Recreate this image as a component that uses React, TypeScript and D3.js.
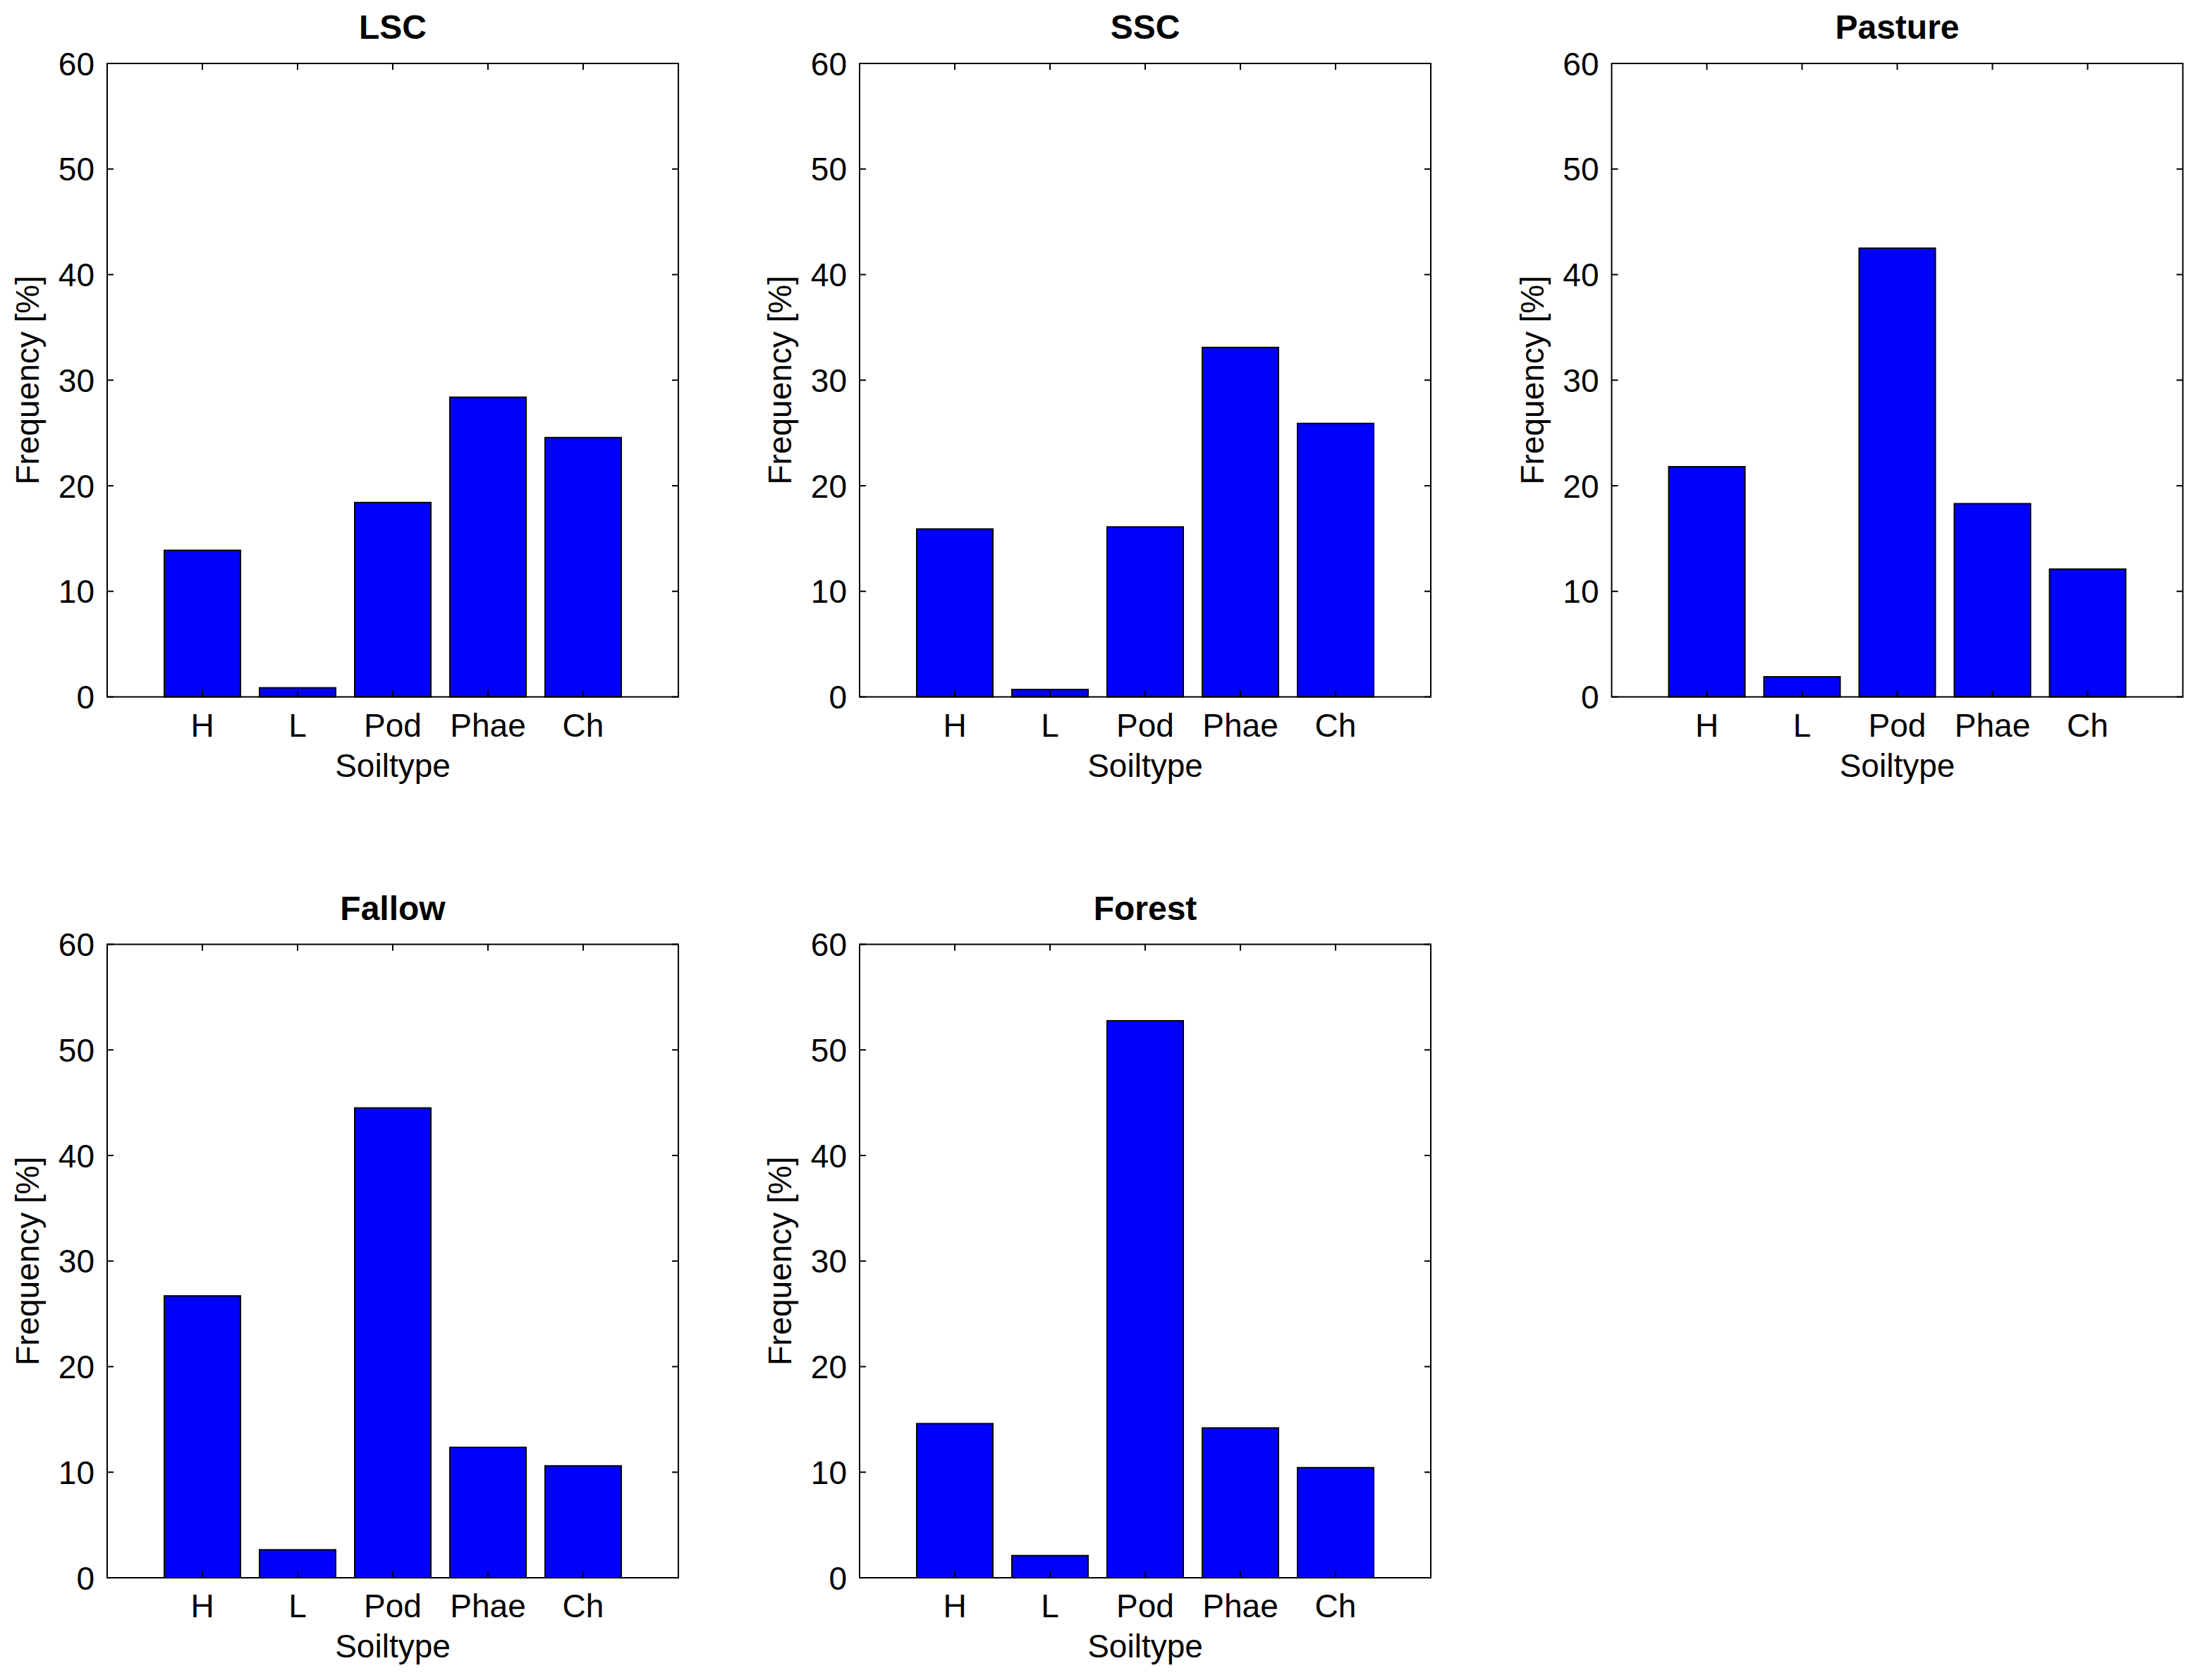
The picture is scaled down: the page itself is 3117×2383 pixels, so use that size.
import React from "react";
import * as d3 from "d3";

const categories = ["H", "L", "Pod", "Phae", "Ch"];
const panelTitles = ["LSC", "SSC", "Pasture", "Fallow", "Forest"];
const lscValues = [13.88, 0.86, 18.41, 28.38, 24.56];
const sscValues = [15.9, 0.7, 16.1, 33.1, 25.9];
const pastureValues = [21.8, 1.9, 42.5, 18.3, 12.1];
const fallowValues = [26.7, 2.65, 44.5, 12.35, 10.6];
const forestValues = [14.6, 2.1, 52.76, 14.19, 10.43];
const yTicks = [0, 10, 20, 30, 40, 50, 60];
const yLabel = "Frequency [%]";
const xLabel = "Soiltype";

const seriesList = [lscValues, sscValues, pastureValues, fallowValues, forestValues];

const W = 3117;
const H = 2383;
const colLefts = [152, 1219, 2285.5];
const rowTops = [90, 1339.5];
const PW = 810;
const PH = 898.5;
const FONT = "'Liberation Sans', Arial, Helvetica, sans-serif";
const FS = 46;
const TICK = 9;

function Panel({ title, values, left, top }: { title: string; values: number[]; left: number; top: number }) {
  const x = d3.scaleLinear().domain([0, 6]).range([0, PW]);
  const y = d3.scaleLinear().domain([0, 60]).range([PH, 0]);
  const bw = x(0.8) - x(0);
  const xt = categories.map((_, i) => i + 1);
  return (
    <g transform={`translate(${left},${top})`}>
      {values.map((v, i) => (
        <rect
          key={i}
          x={x(i + 1) - bw / 2}
          y={y(v)}
          width={bw}
          height={y(0) - y(v)}
          fill="#0000ff"
          stroke="#000"
          strokeWidth={2}
        />
      ))}
      <rect x={0} y={0} width={PW} height={PH} fill="none" stroke="#000" strokeWidth={2} />
      {yTicks.map((t) => (
        <g key={t}>
          <line x1={0} x2={TICK} y1={y(t)} y2={y(t)} stroke="#000" strokeWidth={2} />
          <line x1={PW} x2={PW - TICK} y1={y(t)} y2={y(t)} stroke="#000" strokeWidth={2} />
          <text x={-18} y={y(t)} dy="0.36em" textAnchor="end" fontSize={FS} fontFamily={FONT}>
            {t}
          </text>
        </g>
      ))}
      {xt.map((t, i) => (
        <g key={t}>
          <line x1={x(t)} x2={x(t)} y1={PH} y2={PH - TICK} stroke="#000" strokeWidth={2} />
          <line x1={x(t)} x2={x(t)} y1={0} y2={TICK} stroke="#000" strokeWidth={2} />
          <text x={x(t)} y={PH + 56} textAnchor="middle" fontSize={FS} fontFamily={FONT}>
            {categories[i]}
          </text>
        </g>
      ))}
      <text x={PW / 2} y={PH + 113} textAnchor="middle" fontSize={FS} fontFamily={FONT}>
        {xLabel}
      </text>
      <text
        transform={`translate(${-97},${PH / 2}) rotate(-90)`}
        textAnchor="middle"
        fontSize={FS}
        fontFamily={FONT}
      >
        {yLabel}
      </text>
      <text x={PW / 2} y={-35} textAnchor="middle" fontSize={48} fontWeight="bold" fontFamily={FONT}>
        {title}
      </text>
    </g>
  );
}

export default function App() {
  return (
    <svg
      width={W}
      height={H}
      viewBox={`0 0 ${W} ${H}`}
      style={{ position: "absolute", left: 0, top: 0, background: "#fff" }}
    >
      <rect x={0} y={0} width={W} height={H} fill="#fff" />
      {seriesList.map((vals, i) => (
        <Panel
          key={i}
          title={panelTitles[i]}
          values={vals}
          left={colLefts[i % 3]}
          top={rowTops[Math.floor(i / 3)]}
        />
      ))}
    </svg>
  );
}
